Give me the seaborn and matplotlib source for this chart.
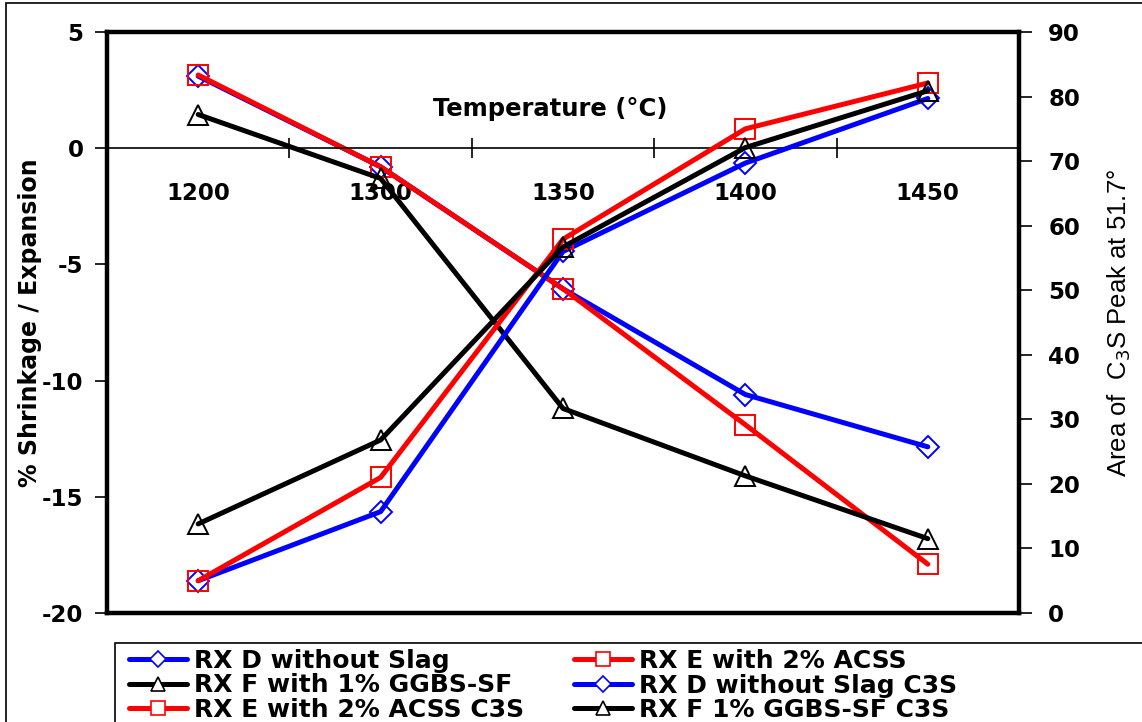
import numpy as np
import pandas as pd
import matplotlib
matplotlib.use("Agg")
import matplotlib.pyplot as plt
import seaborn as sns
from matplotlib.patches import Rectangle
from matplotlib.lines import Line2D

temps = ["1200", "1300", "1350", "1400", "1450"]
rxd_shrink = [3.1, -0.8, -6.05, -10.6, -12.85]
rxe_shrink = [3.15, -0.8, -6.05, -11.9, -17.9]
rxf_shrink = [1.45, -1.3, -11.2, -14.1, -16.8]
rxd_c3s = [5.0, 15.7, 56.0, 69.7, 79.7]
rxe_c3s = [5.0, 21.0, 57.9, 75.0, 82.1]
rxf_c3s = [13.8, 26.8, 56.7, 72.1, 80.9]

labels_shrink = ["RX D without Slag", "RX E with 2% ACSS", "RX F with 1% GGBS-SF"]
labels_c3s = ["RX D without Slag C3S", "RX E with 2% ACSS C3S", "RX F 1% GGBS-SF C3S"]

sns.set_theme(style="white")
plt.rcParams['font.family'] = ['DejaVu Sans']
plt.rcParams['axes.unicode_minus'] = False
for k in ['text.color', 'axes.labelcolor', 'xtick.color', 'ytick.color']:
    plt.rcParams[k] = 'black'

fig = plt.figure(figsize=(11.42, 7.22), dpi=100)
ax = fig.add_axes([107/1142, 1-613/722, 912/1142, 581/722])
ax2 = ax.twinx()

pos = np.arange(len(temps))
colors = ["#0000ff", "#ff0000", "#000000"]
markers = ["D", "s", "^"]
msizes = [11, 14, 15]

for vals, c, m, ms in zip([rxd_shrink, rxe_shrink, rxf_shrink], colors, markers, msizes):
    df = pd.DataFrame({"x": pos, "y": vals})
    sns.lineplot(data=df, x="x", y="y", ax=ax, color=c, lw=3.6, marker=m, ms=ms,
                 markerfacecolor="none", markeredgecolor=c, markeredgewidth=1.4, zorder=2)

for vals, c, m, ms in zip([rxd_c3s, rxe_c3s, rxf_c3s], colors, markers, msizes):
    df = pd.DataFrame({"x": pos, "y": vals})
    sns.lineplot(data=df, x="x", y="y", ax=ax2, color=c, lw=3.6, marker=m, ms=ms,
                 markerfacecolor="none", markeredgecolor=c, markeredgewidth=1.4, zorder=3)

ax.set_xlim(-0.5, len(temps) - 0.5)
ax.set_ylim(-20, 5)
ax2.set_ylim(0, 90)
ax.set_yticks(np.arange(-20, 6, 5))
ax2.set_yticks(np.arange(0, 91, 10))

# x axis through zero
ax.spines['bottom'].set_position(('data', 0))
ax.spines['bottom'].set_linewidth(1.2)
ax.spines['bottom'].set_color('black')
for s in ['left', 'top', 'right']:
    ax.spines[s].set_visible(False)
for s in ['left', 'top', 'right', 'bottom']:
    ax2.spines[s].set_visible(True)
    ax2.spines[s].set_linewidth(3.2)
    ax2.spines[s].set_color('black')

ax.set_xticks(pos)
ax.set_xticklabels(temps)
ax.set_xticks(pos[:-1] + 0.5, minor=True)
ax.tick_params(axis='x', which='major', length=0, pad=24)
ax.tick_params(axis='x', which='minor', length=14, width=1.2, direction='inout', color='black', bottom=True)
ax.tick_params(axis='y', which='major', length=9, width=1.2, direction='out', color='black', left=True, pad=8)
ax2.tick_params(axis='y', which='major', length=9, width=1.2, direction='out', color='black', right=True, pad=12)
ax2.tick_params(axis='x', bottom=False, labelbottom=False)
for t in ax.get_xticklabels() + ax.get_yticklabels() + ax2.get_yticklabels():
    t.set_fontsize(16.5)
    t.set_fontweight('bold')
ax.set_xlabel("")
ax.set_ylabel("% Shrinkage / Expansion", fontsize=17, fontweight='bold', labelpad=0)
ax2.set_ylabel("Area of  C$_3$S Peak at 51.7°", fontsize=18.5, family='Liberation Sans',
               labelpad=18)
ax.grid(False)
ax2.grid(False)

ax.text(0.486, 0.868, "Temperature (°C)", transform=ax.transAxes, fontsize=17.5,
        fontweight='bold', ha='center', va='center')

# legend
handles = []
lms = [8, 10, 10]
for c, m, ms, lab in zip(colors, markers, lms, labels_shrink):
    handles.append(Line2D([], [], color=c, lw=3.6, marker=m, ms=ms, markerfacecolor='white',
                          markeredgecolor=c, markeredgewidth=1.2, label=lab))
for c, m, ms, lab in zip(colors, markers, lms, labels_c3s):
    handles.append(Line2D([], [], color=c, lw=3.6, marker=m, ms=ms, markerfacecolor='white',
                          markeredgecolor=c, markeredgewidth=1.2, label=lab))
# row-major order: (D, E), (F, D C3S), (E C3S, F C3S)
order = [handles[0], handles[2], handles[4], handles[1], handles[3], handles[5]]
leg = fig.legend(handles=order, loc='upper left', bbox_to_anchor=(129/1142, 1-649/722),
                 ncol=2, frameon=False,
                 prop={'weight': 'bold', 'size': 18}, handlelength=2.3, handletextpad=0.3,
                 columnspacing=2.0, labelspacing=0.02, borderpad=0.0, borderaxespad=0)

fig.patches.append(Rectangle((115/1142, -0.1), 1.2, (722-643)/722 + 0.1, transform=fig.transFigure,
                             fill=False, edgecolor='black', lw=1.2, zorder=0))
fig.patches.append(Rectangle((6/1142, -0.1), 1.2, 1 - 3/722 + 0.1, transform=fig.transFigure,
                             fill=False, edgecolor='black', lw=1.2, zorder=0))

fig.savefig("out.png", dpi=100)
